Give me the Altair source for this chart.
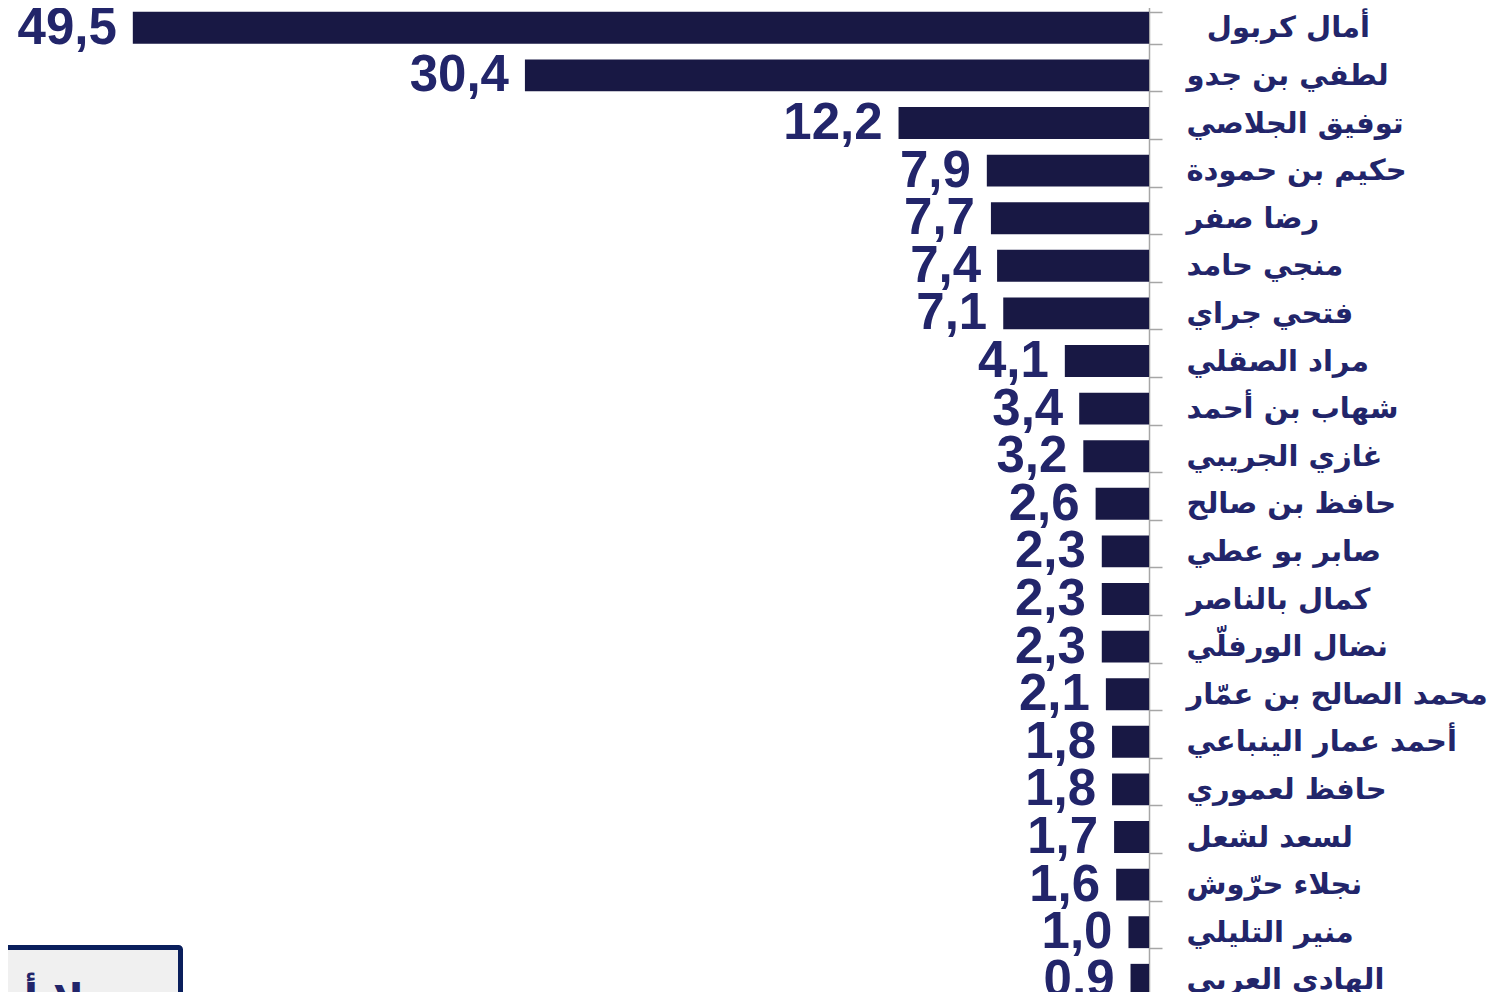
import altair as alt
import pandas as pd

names = ["\u200e\u2002\u2009أمال كربول", "لطفي بن جدو", "توفيق الجلاصي", "حكيم بن حمودة", "رضا صفر",
         "منجي حامد", "فتحي جراي", "مراد الصقلي", "شهاب بن أحمد", "غازي الجريبي",
         "حافظ بن صالح", "صابر بو عطي", "كمال بالناصر", "نضال الورفلّي",
         "محمد الصالح بن عمّار", "أحمد عمار الينباعي", "حافظ لعموري", "لسعد لشعل",
         "نجلاء حرّوش", "منير التليلي", "الهادي العربي"]
values = [49.5, 30.4, 12.2, 7.9, 7.7, 7.4, 7.1, 4.1, 3.4, 3.2, 2.6, 2.3, 2.3, 2.3,
          2.1, 1.8, 1.8, 1.7, 1.6, 1.0, 0.9]
box_label = ["لا أدري"]

df = pd.DataFrame({
    "name": names,
    "value": values,
    "label": [f"{v:.1f}".replace(".", ",") for v in values],
})

BAR = "#181844"
TXT = "#22256a"

y_enc = alt.Y("name:N", sort=None,
              scale=alt.Scale(range=[-4, 995.6], paddingInner=0.33, paddingOuter=0.165),
              axis=alt.Axis(orient="right", title=None, tickBand="extent",
                            domainColor="#a6a6a6", tickColor="#a6a6a6",
                            domainWidth=1.5, tickWidth=1.5, tickSize=13,
                            labelPadding=24, labelAlign="left",
                            labelFont="DejaVu Sans", labelFontWeight="bold",
                            labelFontSize=29, labelColor=TXT, labelLimit=400))
x_enc = alt.X("value:Q", scale=alt.Scale(domain=[0, 55.58], reverse=True, nice=False),
              axis=None)

base = alt.Chart(df)
bars = base.mark_bar(color=BAR).encode(x=x_enc, y=y_enc)
texts = base.mark_text(align="right", baseline="middle", dx=-16, dy=1,
                       font="Liberation Sans", fontWeight="bold", fontSize=51,
                       color=TXT).encode(x=x_enc, y=y_enc, text="label:N")

box_df = pd.DataFrame({"t": box_label})
box = alt.Chart(box_df).mark_rect(fill="#f0f0f0", stroke="#0a1f5c", strokeWidth=5,
                                  cornerRadius=2).encode(
    x=alt.value(-20), x2=alt.value(172.5), y=alt.value(939.5), y2=alt.value(1020))
box_text = alt.Chart(box_df).mark_text(align="right", baseline="alphabetic",
                                       font="DejaVu Sans", fontWeight="bold",
                                       fontSize=42, color=TXT).encode(
    x=alt.value(76), y=alt.value(1006), text="t:N")

chart = alt.layer(bars, texts, box, box_text).properties(
    width=1141, height=984,
    autosize=alt.AutoSizeParams(type="none"),
    padding={"left": 0, "top": 0, "right": 349, "bottom": 0},
).configure_view(stroke=None).configure_axis(grid=False)

chart.save("out.html", embed_options={"renderer": "svg", "actions": False})
